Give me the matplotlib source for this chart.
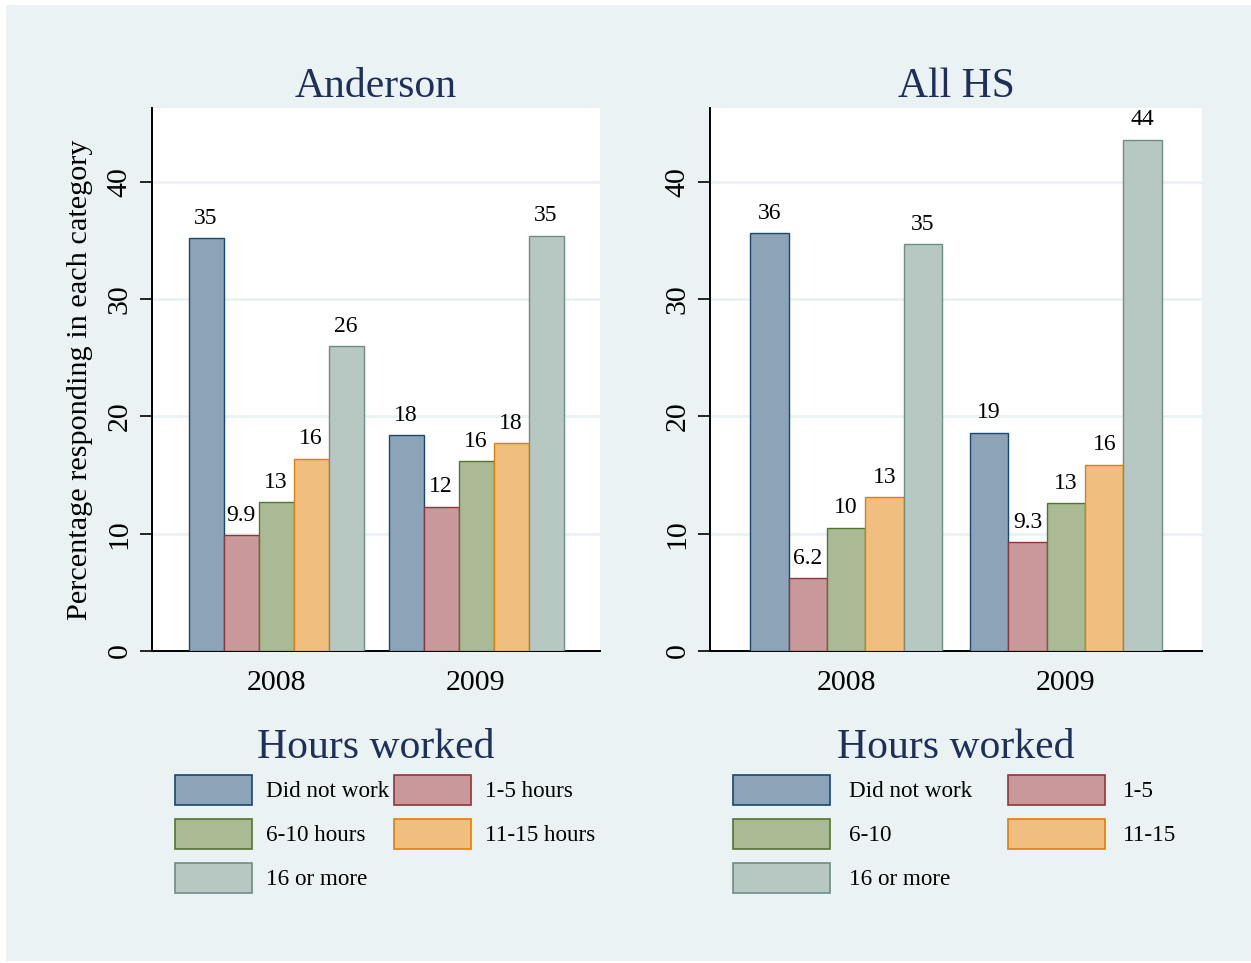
import matplotlib
matplotlib.use('Agg')
import matplotlib.pyplot as plt
from matplotlib.patches import Rectangle, Patch

# Data
years = ['2008', '2009']
panels = ['Anderson', 'All HS']
anderson_labels = ['Did not work', '1-5 hours', '6-10 hours', '11-15 hours', '16 or more']
allhs_labels = ['Did not work', '1-5', '6-10', '11-15', '16 or more']

anderson_did_not_work = [35.2, 18.4]
anderson_1_5 = [9.9, 12.3]
anderson_6_10 = [12.7, 16.2]
anderson_11_15 = [16.4, 17.7]
anderson_16_more = [26.0, 35.4]

allhs_did_not_work = [35.6, 18.6]
allhs_1_5 = [6.2, 9.3]
allhs_6_10 = [10.5, 12.6]
allhs_11_15 = [13.1, 15.9]
allhs_16_more = [34.7, 43.6]

yticks = [0, 10, 20, 30, 40]

# Stata s2color-like styling
fills = ['#8DA3B8', '#C8989A', '#AABA94', '#F0BF80', '#B7C8C2']
edges = ['#1A476F', '#90353B', '#55752F', '#E37E00', '#6E8E84']
bg = '#EAF2F3'
navy = '#1E2F5A'

plt.rcParams['font.family'] = ['Liberation Serif', 'DejaVu Serif']

W, H = 1251, 963
fig = plt.figure(figsize=(W / 100, H / 100), dpi=100, facecolor='white')
fig.patches.append(Rectangle((6 / W, 2 / H), 1 - 6 / W, 1 - 7 / H,
                             transform=fig.transFigure, facecolor=bg,
                             edgecolor='none', zorder=-10))


def px_axes(l, t, r, b):
    return fig.add_axes([l / W, 1 - b / H, (r - l) / W, (b - t) / H])


ax1 = px_axes(152, 108, 600, 651)
ax2 = px_axes(710, 108, 1202, 651)

data = [
    [anderson_did_not_work, anderson_1_5, anderson_6_10, anderson_11_15, anderson_16_more],
    [allhs_did_not_work, allhs_1_5, allhs_6_10, allhs_11_15, allhs_16_more],
]
legend_labels = [anderson_labels, allhs_labels]
legend_cfg = [
    dict(handlelength=3.32, handletextpad=0.6, columnspacing=0.2, x=0.521),
    dict(handlelength=4.18, handletextpad=0.8, columnspacing=1.55, x=0.498),
]

width = 0.175
offsets = [(i - 2) * width for i in range(5)]

for k, ax in enumerate([ax1, ax2]):
    ax.set_facecolor('white')
    series = data[k]
    for i, vals in enumerate(series):
        xs = [j + offsets[i] for j in range(len(years))]
        bars = ax.bar(xs, vals, width=width, color=fills[i], edgecolor=edges[i],
                      linewidth=1.0, zorder=3)
        for b, v in zip(bars, vals):
            ax.text(b.get_x() + b.get_width() / 2, v + 0.8, '%.2g' % v,
                    ha='center', va='bottom', fontsize=17, color='black')
    ax.set_xlim(-0.62, 1.62)
    ax.set_ylim(0, 46.3)
    ax.set_yticks(yticks)
    ax.set_yticklabels([str(t) for t in yticks], rotation=90, va='center',
                       fontsize=21.5)
    ax.set_xticks(range(len(years)))
    ax.set_xticklabels(years, fontsize=21.5)
    ax.tick_params(axis='x', length=0, pad=14)
    ax.tick_params(axis='y', length=9, width=1.2, pad=5, direction='out')
    for y in yticks[1:]:
        ax.axhline(y, color=bg, linewidth=2, zorder=1)
    ax.spines['top'].set_visible(False)
    ax.spines['right'].set_visible(False)
    ax.spines['left'].set_linewidth(1.4)
    ax.spines['bottom'].set_linewidth(1.4)
    ax.set_title(panels[k], fontsize=30, color=navy, pad=8)

    # legend below each panel
    ax.text(0.5, -0.142, 'Hours worked', transform=ax.transAxes, ha='center',
            va='top', fontsize=30, color=navy)
    handles = [Patch(facecolor=fills[i], edgecolor=edges[i], linewidth=1.2)
               for i in range(5)]
    order = [0, 2, 4, 1, 3]
    cfg = legend_cfg[k]
    ax.legend([handles[i] for i in order], [legend_labels[k][i] for i in order],
              ncol=2, loc='upper center', bbox_to_anchor=(cfg['x'], -0.228),
              frameon=False, fontsize=16.7, handlelength=cfg['handlelength'],
              handleheight=1.61, handletextpad=cfg['handletextpad'],
              labelspacing=0.6, columnspacing=cfg['columnspacing'],
              borderaxespad=0, borderpad=0)

ax1.set_ylabel('Percentage responding in each category', fontsize=21.8, labelpad=10)

fig.savefig('out.png', dpi=100, facecolor=fig.get_facecolor())
